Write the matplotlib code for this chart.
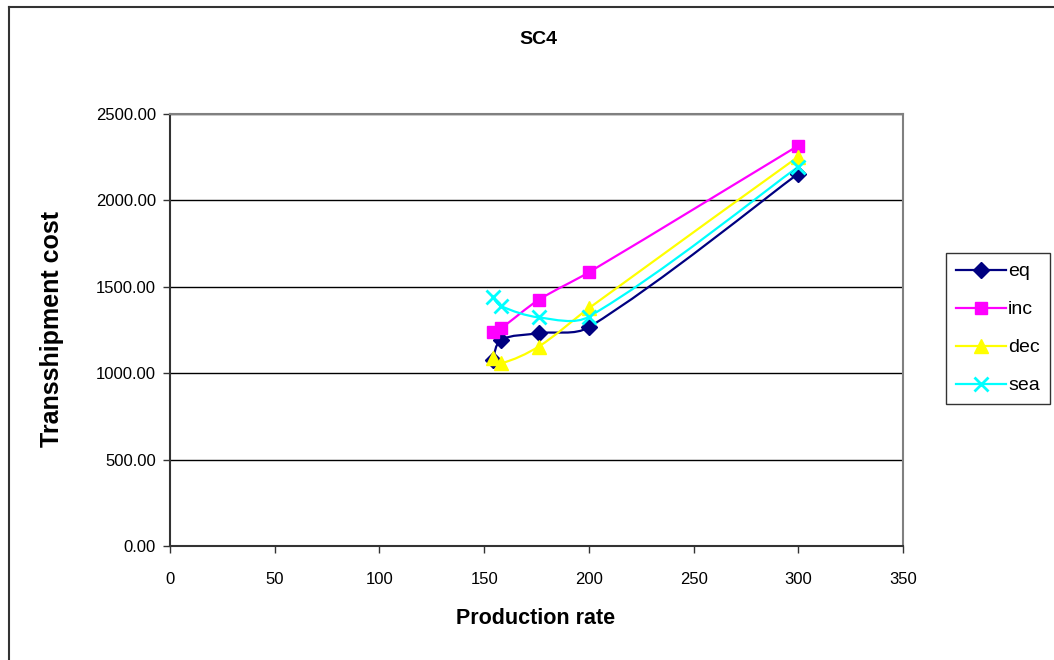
import numpy as np
import matplotlib
matplotlib.use('Agg')
import matplotlib.pyplot as plt
from matplotlib.path import Path
from matplotlib.patches import PathPatch
from matplotlib.lines import Line2D

plt.rcParams['font.family'] = ['Liberation Sans', 'DejaVu Sans']

# production rate (x) and transshipment cost per scenario
rate = [154, 158, 176, 200, 300]
eq = [1078, 1192, 1231, 1266, 2155]
inc = [1240, 1260, 1424, 1584, 2317]
dec = [1086, 1057, 1154, 1376, 2253]
sea = [1443, 1389, 1323, 1327, 2195]

series = [
    ('eq', eq, '#000080', 'D', 8),
    ('inc', inc, '#FF00FF', 's', 8.5),
    ('dec', dec, '#FFFF00', '^', 10),
    ('sea', sea, '#00FFFF', 'x', 10),
]

W, H = 1054, 660
SX, SY = 733 / 350, 432 / 2500  # pixels per data unit


def smooth_path(x, y):
    # excel-like smoothed line, controls scaled by segment lengths on screen
    p = np.column_stack([x, y]).astype(float)
    n = len(p)
    scale = np.array([SX, SY])

    def dist(a, b):
        return np.hypot(*((b - a) * scale))

    verts = [p[0]]
    codes = [Path.MOVETO]
    for i in range(n - 1):
        p0 = p[i - 1] if i > 0 else p[i]
        p3 = p[i + 2] if i + 2 < n else p[i + 1]
        d01, d12, d23 = dist(p0, p[i]), dist(p[i], p[i + 1]), dist(p[i + 1], p3)
        f1 = d12 / (d01 + d12) if d01 > 0 else 0.5
        f2 = d12 / (d12 + d23) if d23 > 0 else 0.5
        c1 = p[i] + (p[i + 1] - p0) * f1 / 3
        c2 = p[i + 1] - (p3 - p[i]) * f2 / 3
        verts += [c1, c2, p[i + 1]]
        codes += [Path.CURVE4] * 3
    return Path(verts, codes)


fig = plt.figure(figsize=(W / 100, H / 100), dpi=100)
ax = fig.add_axes([170 / W, 114 / H, 733 / W, 432 / H])

for name, vals, col, mk, ms in series:
    ax.add_patch(PathPatch(smooth_path(rate, vals), facecolor='none',
                           edgecolor=col, lw=1.6, zorder=3))
    ax.plot(rate, vals, linestyle='none', marker=mk, color=col, ms=ms,
            mew=2 if mk == 'x' else 1, zorder=4)

ax.set_xlim(0, 350)
ax.set_ylim(0, 2500)
ax.set_xticks(np.arange(0, 351, 50))
ax.set_yticks(np.arange(0, 2501, 500))
ax.set_yticklabels(['%.2f' % v for v in np.arange(0, 2501, 500)])
ax.yaxis.grid(True, color='black', lw=1)
ax.set_axisbelow(True)
ax.tick_params(labelsize=12, length=5, width=1, colors='#333333', labelcolor='black')
ax.tick_params(axis='x', pad=14)
ax.tick_params(axis='y', pad=5)

ax.spines['left'].set_color('#333333')
ax.spines['bottom'].set_color('#333333')
ax.spines['top'].set_color('#808080')
ax.spines['right'].set_color('#808080')
for s in ax.spines.values():
    s.set_linewidth(1.5)

fig.text(538 / W, 1 - 40 / H, 'SC4', ha='center', va='center',
         fontsize=14, fontweight='bold')
fig.text(536 / W, 1 - 619 / H, 'Production rate', ha='center', va='center',
         fontsize=15.5, fontweight='bold')
fig.text(52 / W, 1 - 329 / H, 'Transshipment cost', ha='center', va='center',
         rotation=90, fontsize=18, fontweight='bold')

handles = [Line2D([], [], color=c, marker=m, ms=ms, lw=1.6,
                  mew=2 if m == 'x' else 1) for _, _, c, m, ms in series]
leg = fig.legend(handles, [s[0] for s in series], loc='upper left',
                 bbox_to_anchor=(946 / W, 1 - 253 / H), fontsize=14,
                 frameon=True, fancybox=False, borderpad=0.5,
                 handlelength=2.6, handletextpad=0.1, labelspacing=1.05,
                 borderaxespad=0)
leg.get_frame().set_edgecolor('black')
leg.get_frame().set_linewidth(1)

# outer chart border (right and bottom fall outside the image)
fig.add_artist(Line2D([8.5 / W, 1.0], [1 - 6.5 / H, 1 - 6.5 / H],
                      transform=fig.transFigure, color='#333333', lw=1.5))
fig.add_artist(Line2D([8.5 / W, 8.5 / W], [0, 1 - 6.5 / H],
                      transform=fig.transFigure, color='#333333', lw=1.5))

fig.savefig('out.png', dpi=100)
